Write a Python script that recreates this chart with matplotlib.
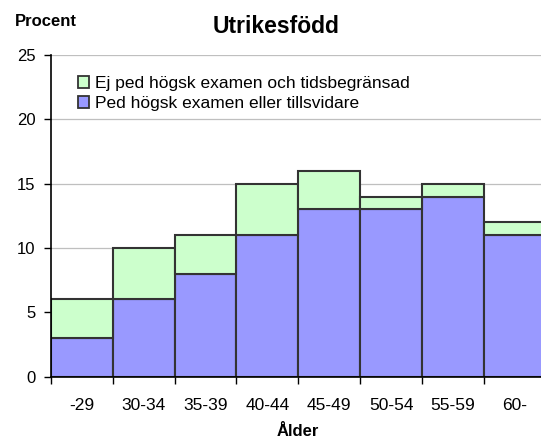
import matplotlib
matplotlib.use("Agg")
import matplotlib.pyplot as plt
from matplotlib.ticker import FixedLocator

categories = ["-29", "30-34", "35-39", "40-44", "45-49", "50-54", "55-59", "60-"]
ped_hogsk = [3, 6, 8, 11, 13, 13, 14, 11]          # Ped högsk examen eller tillsvidare
ej_ped_tids = [3, 4, 3, 4, 3, 1, 1, 1]             # Ej ped högsk examen och tidsbegränsad
yticks = [0, 5, 10, 15, 20, 25]

plt.rcParams['font.family'] = ['Liberation Sans', 'DejaVu Sans']

W, H = 541, 441
fig = plt.figure(figsize=(W / 100, H / 100), dpi=100)
left_px, right_px = 50.7, 541.0
bottom_px, top_px = 376.7, 55.0
ax = fig.add_axes([left_px / W, 1 - bottom_px / H, (right_px - left_px) / W, (bottom_px - top_px) / H])

x = list(range(len(categories)))
edge = '#333333'
b1 = ax.bar(x, ped_hogsk, width=1.0, color='#9999FF', edgecolor=edge, linewidth=1.5, zorder=3,
            label='Ped högsk examen eller tillsvidare')
b2 = ax.bar(x, ej_ped_tids, width=1.0, bottom=ped_hogsk, color='#CCFFCC', edgecolor=edge,
            linewidth=1.5, zorder=3, label='Ej ped högsk examen och tidsbegränsad')

unit_px = 61.9
ax.set_xlim(-0.5, -0.5 + (right_px - left_px) / unit_px)
ax.set_ylim(0, 25)
ax.set_yticks(yticks)
ax.set_yticklabels([str(v) for v in yticks])
ax.yaxis.grid(True, color='#BFBFBF', linewidth=0.9, zorder=0)
ax.set_axisbelow(True)

ax.set_xticks(x)
ax.set_xticklabels(categories)
ax.xaxis.set_minor_locator(FixedLocator([i - 0.5 for i in range(len(categories) + 1)]))
ax.tick_params(axis='x', which='major', length=0, pad=15, labelsize=12.5)
ax.tick_params(axis='x', which='minor', length=5, width=1, color='black', direction='out')
ax.tick_params(axis='y', which='major', length=5, width=1, color='black', pad=6, labelsize=12)

for s in ['top', 'right']:
    ax.spines[s].set_visible(False)
ax.spines['left'].set_color('black')
ax.spines['left'].set_linewidth(1.2)
ax.spines['bottom'].set_color('black')
ax.spines['bottom'].set_linewidth(1.2)
ax.spines['left'].set_zorder(4)
ax.spines['bottom'].set_zorder(4)

leg = ax.legend(handles=[b2, b1], loc='upper left', bbox_to_anchor=(78 / W, 1 - 76 / H),
                bbox_transform=fig.transFigure, frameon=False, fontsize=12.5,
                handlelength=0.65, handleheight=0.65, handletextpad=0.35, labelspacing=0.3,
                borderpad=0, borderaxespad=0)
for h in leg.legend_handles:
    h.set_linewidth(1.3)

fig.text(276.5 / W, 1 - 33 / H, 'Utrikesfödd', ha='center', va='baseline',
         fontsize=16.5, fontweight='bold')
fig.text(15 / W, 1 - 26 / H, 'Procent', ha='left', va='baseline', fontsize=12, fontweight='bold')
fig.text(298 / W, 1 - 436 / H, 'Ålder', ha='center', va='baseline', fontsize=12, fontweight='bold')

fig.savefig('out.png', dpi=100)
